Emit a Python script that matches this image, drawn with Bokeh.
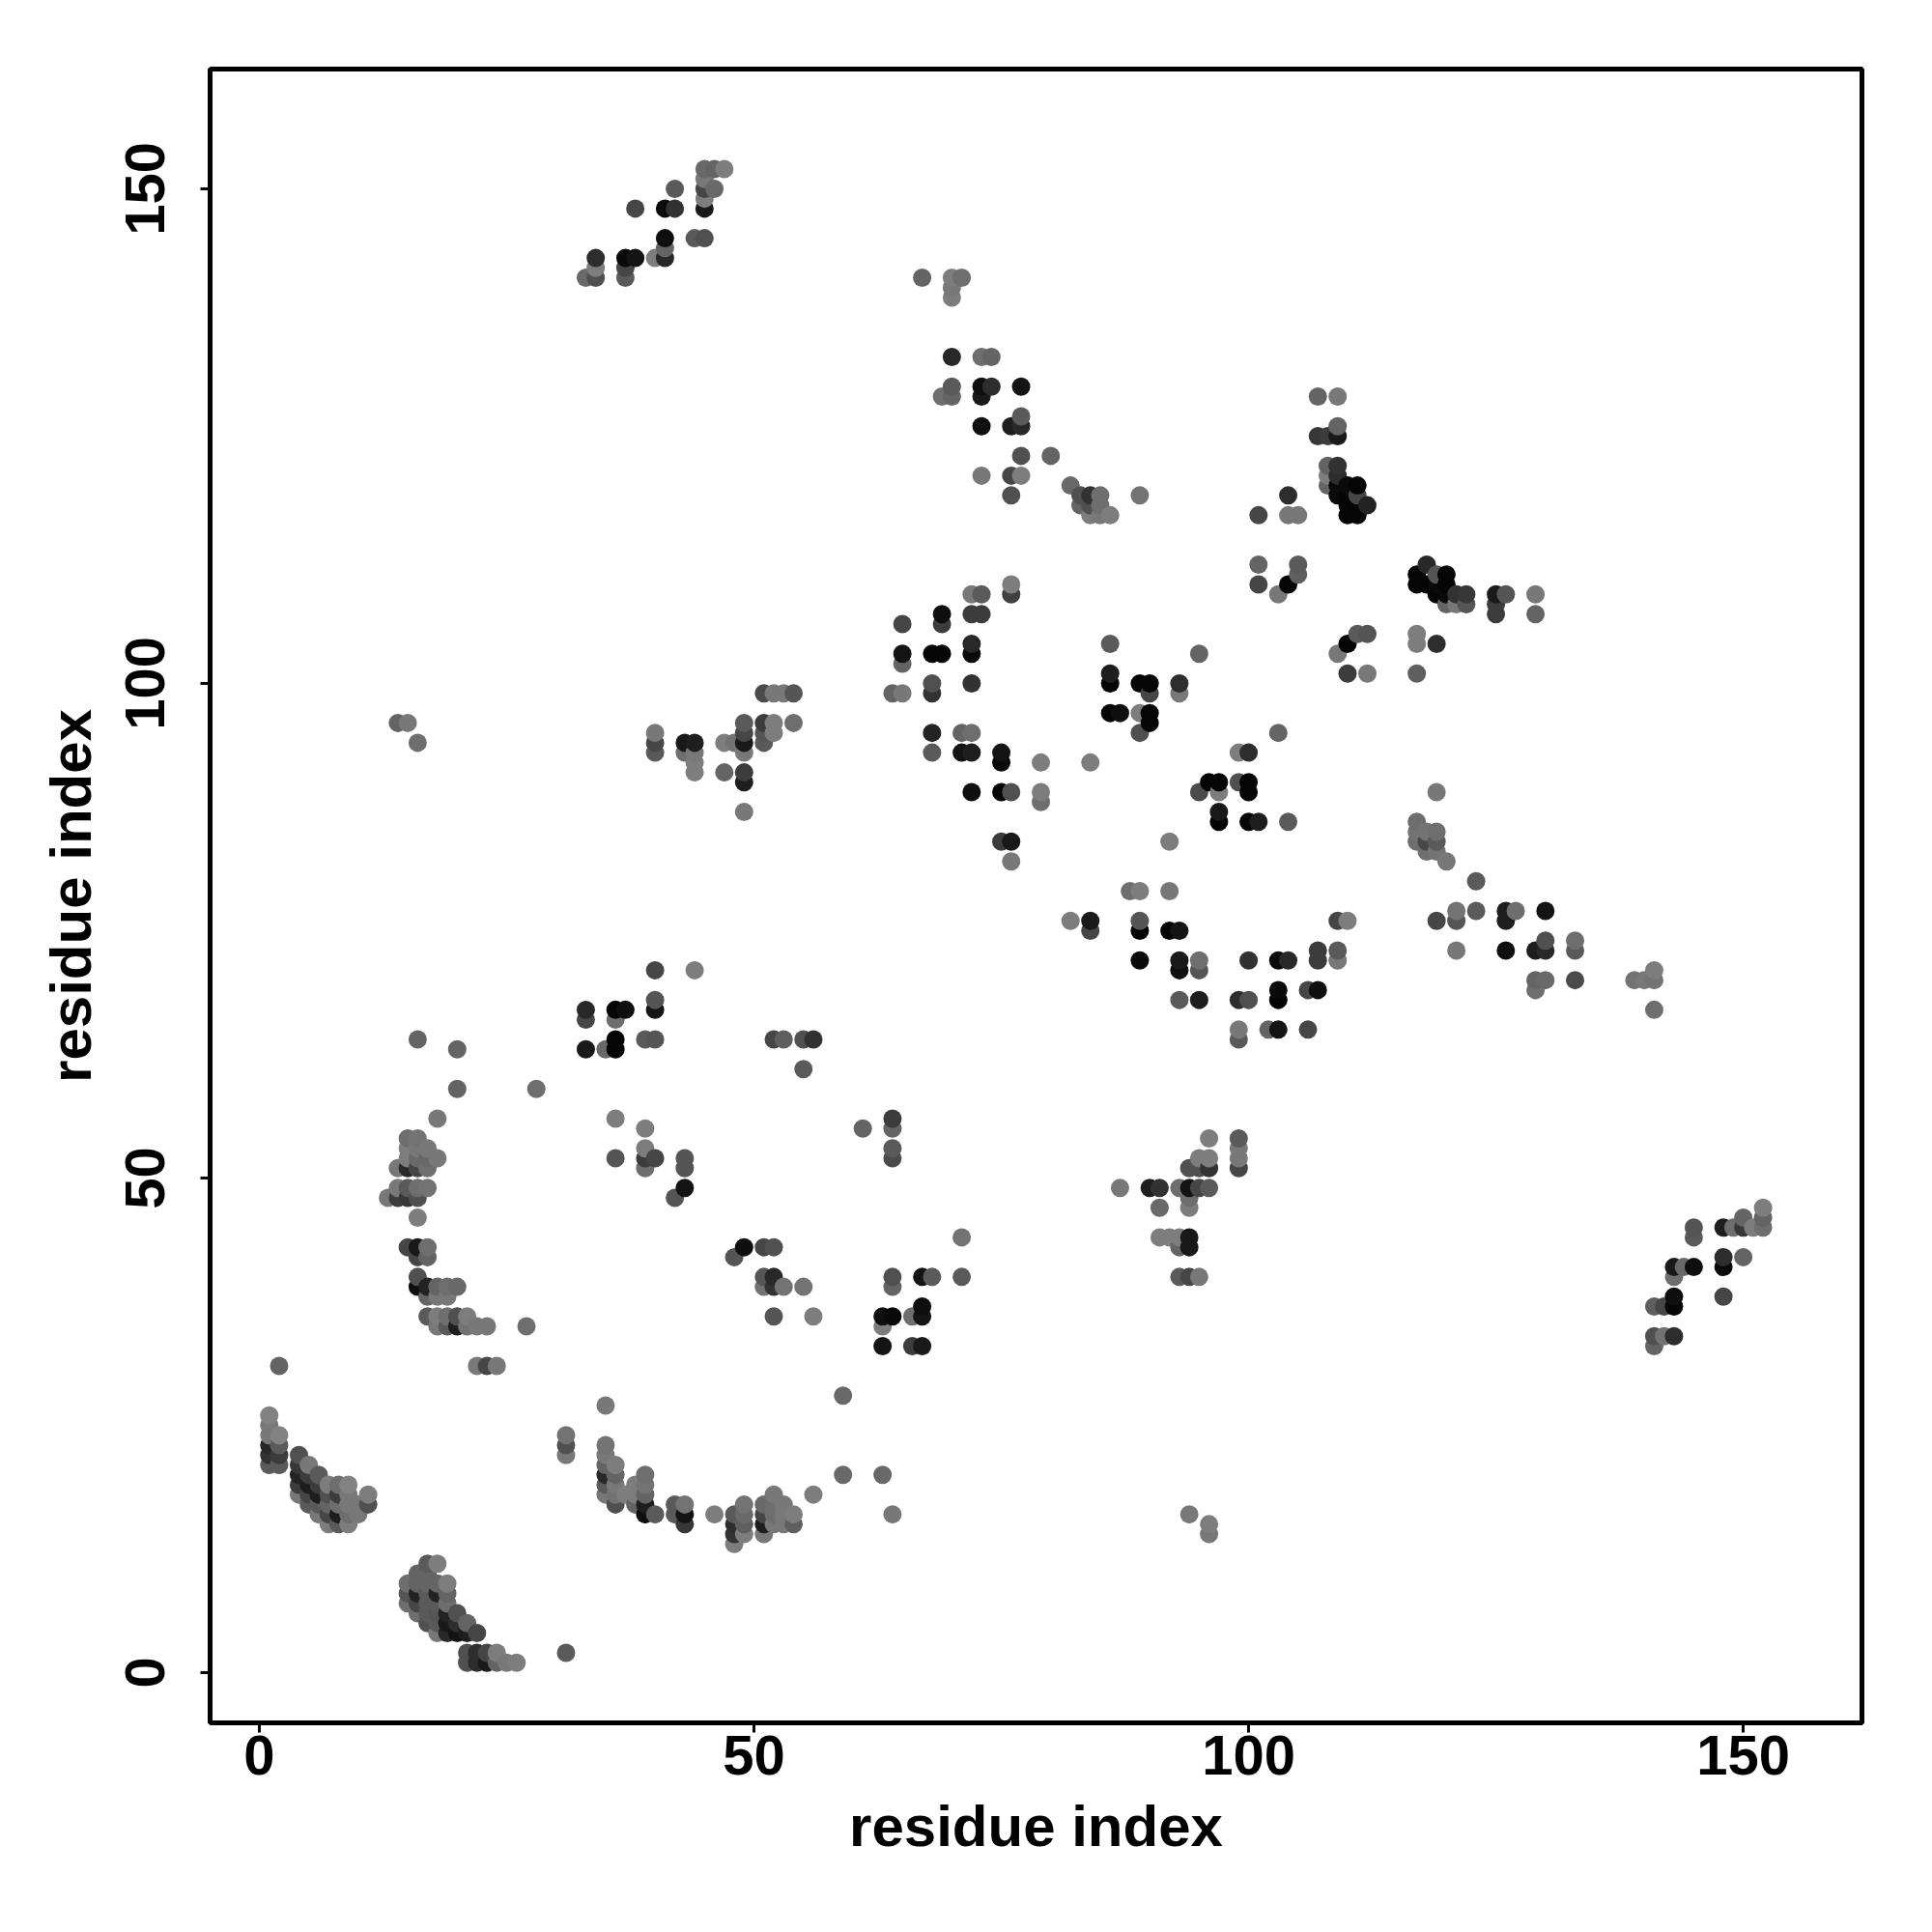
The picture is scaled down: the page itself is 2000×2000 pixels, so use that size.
from bokeh.plotting import figure
from bokeh.models import ColumnDataSource, Range1d, FixedTicker
from bokeh.embed import file_html
from bokeh.resources import INLINE

# contact points: (residue index x, residue index y, grey level of the mark)
helix_a = [(2,31,100),(1,26,130),(1,25,120),(1,24,120),(1,23,40),(1,22,50),(1,21,90),(2,24,130),(2,23,90),(2,22,60),(2,21,90),
 (4,22,80),(4,21,55),(4,20,35),(4,19,60),(4,18,120),(5,21,120),(5,20,60),(5,19,30),(5,18,70),(5,17,90),
 (6,20,90),(6,19,60),(6,18,30),(6,17,90),(6,16,120),(7,19,125),(7,18,80),(7,17,100),(7,16,70),(7,15,125),
 (8,19,110),(8,18,60),(8,17,110),(8,16,30),(8,15,90),(9,19,130),(9,18,120),(9,17,120),(9,16,110),(9,15,125),
 (10,17,120),(10,16,120),(11,18,125),(11,17,80)]
helix_b = [(15,9,110),(15,8,85),(15,7,110),(16,10,100),(16,9,100),(16,8,35),(16,7,70),(16,6,110),
 (17,11,90),(17,10,100),(17,9,100),(17,8,90),(17,7,90),(17,6,90),(17,5,80),
 (18,11,125),(18,9,100),(18,8,35),(18,7,90),(18,6,85),(18,5,90),(18,4,120),
 (19,9,125),(19,8,100),(19,7,110),(19,6,35),(19,5,25),(19,4,40),(20,6,80),(20,5,45),(20,4,20),
 (21,5,100),(21,4,30),(22,4,70),(21,2,80),(21,1,80),(22,2,45),(22,1,45),(23,2,70),(23,1,25),
 (24,2,125),(24,1,100),(25,1,120),(26,1,125),(31,2,90),(22,31,120),(23,31,70),(24,31,120)]
arc_left = [(16,64,100),(20,63,100),(20,59,100),(28,59,110),(18,56,120),(15,54,110),(16,54,115),(15,53,125),(16,53,120),(17,53,120),
 (15,52,125),(16,52,105),(17,52,105),(18,52,120),(14,51,120),(15,51,40),(16,51,70),(17,51,110),
 (14,49,120),(15,49,90),(16,49,110),(17,49,115),(13,48,120),(14,48,60),(15,48,55),(16,48,80),(16,46,125),
 (15,43,70),(16,43,25),(17,43,110),(16,42,70),(17,42,100),(16,40,80),(16,39,15),(17,39,35),(18,39,100),(19,39,110),(20,39,105),
 (17,38,100),(18,38,120),(19,38,120),(17,36,90),(18,36,125),(19,36,110),(20,36,80),(21,36,125),
 (18,35,120),(19,35,90),(20,35,30),(21,35,115),(22,35,120),(23,35,120),(27,35,110)]
arc_bottom = [(31,24,115),(31,23,80),(31,22,120),(35,27,120),(35,23,115),(35,22,120),(35,21,100),(35,20,40),(35,19,90),(35,18,120),
 (36,21,125),(36,20,100),(36,19,120),(36,18,115),(36,17,80),(37,18,125),(38,19,125),(38,18,125),(38,17,100),
 (39,20,110),(39,19,115),(39,18,100),(39,17,30),(39,16,15),(40,16,90),(42,17,90),(42,16,90),(43,17,115),(43,16,20),(43,15,55),
 (46,16,125),(48,16,90),(48,15,45),(48,14,50),(48,13,125),(49,17,115),(49,16,105),(49,15,95),(49,14,125),
 (51,17,105),(51,16,70),(51,15,30),(51,14,120),(52,18,120),(52,17,110),(52,16,110),(52,15,120),
 (53,17,120),(53,16,120),(53,15,120),(54,16,125),(54,15,95),(56,18,125),(59,28,105),(59,20,105),(63,20,105),(64,16,120),
 (94,16,120),(96,15,125),(96,14,120)]
mid_low = [(40,71,70),(44,71,125),(40,68,85),(40,67,20),(33,67,40),(33,66,70),(36,67,5),(37,67,15),(36,66,110),(33,63,25),(35,63,105),
 (36,64,5),(36,63,5),(39,64,90),(40,64,85),(52,64,70),(53,64,95),(55,64,80),(56,64,50),(55,61,90),
 (36,56,125),(39,55,125),(39,53,125),(36,52,85),(39,52,60),(40,52,70),(39,51,110),(43,52,85),(43,51,85),(43,49,20),(42,48,85),
 (61,55,100),(64,56,60),(64,55,100),(64,53,90),(64,52,75),(71,44,115),(71,40,90),
 (48,42,85),(49,43,15),(51,43,70),(52,43,80),(51,40,85),(52,40,40),(51,39,115),(52,39,50),(53,39,115),(55,39,115),(52,36,85),(56,36,125),
 (63,36,15),(64,36,10),(63,35,125),(63,33,20),(64,40,80),(64,39,100),(66,36,110),(67,37,15),(67,36,20),(67,40,20),(68,40,90),(66,33,60),(67,33,25)]
band_90 = [(14,96,100),(15,96,120),(16,94,110),(40,95,120),(40,94,70),(40,93,90),(43,94,25),(44,94,30),(43,93,110),(44,93,120),(44,92,125),(44,91,125),
 (47,94,125),(48,94,115),(49,96,90),(49,95,70),(49,94,25),(49,93,120),(47,91,100),(49,91,60),(49,90,30),(49,87,120),
 (51,96,60),(51,95,85),(51,94,90),(52,96,125),(52,95,125),(54,96,110),(51,99,75),(52,99,120),(53,99,120),(54,99,85)]
top_left = [(33,141,105),(34,141,80),(34,142,125),(34,143,45),(37,143,10),(38,143,20),(37,142,70),(37,141,90),(40,143,125),(41,143,40),(41,144,100),(41,145,15),
 (38,148,70),(41,148,10),(42,148,50),(42,150,90),(44,145,90),(45,145,80),(45,152,105),(45,151,120),(45,150,70),(45,149,125),(45,148,25),(46,152,100),(46,150,105),(47,152,125)]
mid_a = [(65,106,70),(69,107,15),(69,106,60),(72,109,120),(73,109,90),(72,107,60),(73,107,60),(76,110,125),(76,109,65),
 (72,104,40),(72,103,10),(68,103,5),(69,103,5),(65,103,20),(65,102,100),(68,100,80),(68,99,50),(64,99,100),(65,99,120),(72,100,50),
 (68,95,35),(71,95,100),(72,95,110),(68,93,90),(71,93,20),(72,93,30),(75,93,20),(75,92,10),(79,92,125),(84,92,125),
 (72,89,15),(75,89,5),(76,89,80),(79,89,125),(79,88,110),(75,84,60),(76,84,25),(76,82,120),(92,84,125)]
mid_b = [(86,104,90),(86,101,30),(86,100,5),(89,100,5),(90,100,5),(90,99,70),(93,100,45),(93,99,120),(86,97,5),(87,97,15),(89,97,125),(90,97,5),(90,96,5),(89,95,80),
 (95,103,100),(103,95,100),(99,93,125),(100,93,45),(96,90,5),(97,90,5),(95,89,75),(97,89,125),(99,90,80),(100,90,5),(100,89,5),
 (97,87,25),(97,86,5),(100,86,5),(101,86,30),(104,86,90),(88,79,110),(89,79,125),(92,79,120)]
mid_c = [(82,76,125),(84,76,25),(84,75,70),(89,76,85),(89,75,5),(92,75,5),(93,75,20),(89,72,10),(93,72,25),(93,71,15),(95,72,110),(95,71,85),
 (100,72,50),(103,72,10),(104,72,40),(107,73,60),(107,72,60),(109,73,90),(109,72,120),(109,76,70),(110,76,125),
 (93,68,90),(95,68,30),(99,68,45),(100,68,80),(103,69,10),(103,68,5),(106,69,70),(107,69,15),(99,65,120),(99,64,90),(102,65,100),(103,65,20),(106,65,70)]
lower_mid = [(87,49,120),(90,49,30),(91,49,50),(93,49,110),(94,49,20),(95,49,70),(96,49,90),(94,48,110),(94,47,125),(91,47,105),
 (96,54,125),(95,52,125),(96,52,125),(94,51,80),(95,51,80),(96,51,50),(99,54,90),(99,53,120),(99,52,120),(99,51,70),
 (91,44,125),(92,44,125),(93,44,125),(94,44,25),(94,43,25),(93,43,100),(93,40,90),(94,40,70),(95,40,120)]
lower_right = [(152,47,125),(152,46,100),(152,45,110),(150,46,100),(150,45,55),(151,45,125),(148,45,30),(149,45,110),(145,45,85),(145,44,90),
 (148,42,45),(148,41,10),(150,42,100),(148,38,70),(143,41,25),(144,41,105),(145,41,15),(143,40,110),(143,38,15),(143,37,5),(141,37,95),(142,37,70),
 (141,34,80),(142,34,115),(143,34,45),(141,33,100)]
upper_right = [(107,129,100),(109,129,120),(107,125,55),(108,125,60),(109,125,25),(109,126,100),(108,122,100),(109,122,50),(108,121,125),(109,121,45),
 (108,120,100),(109,120,10),(110,120,10),(111,120,5),(109,119,10),(110,119,5),(111,119,70),(110,118,5),(111,118,5),(112,118,35),(110,117,5),(111,117,5),
 (104,119,45),(104,117,120),(105,117,120),(101,117,70),(101,112,100),(101,110,70),(103,109,120),(105,112,90),(105,111,95),(104,110,5),
 (118,112,40),(117,111,5),(119,111,85),(120,111,5),(117,110,5),(118,110,5),(119,110,10),(120,110,5),(119,109,5),(120,109,10),(121,109,50),(122,109,55),
 (125,109,25),(126,109,85),(129,109,120),(120,108,100),(121,108,120),(122,108,85),(125,108,60),(125,107,60),(129,107,100),
 (111,105,90),(112,105,85),(117,105,125),(110,104,5),(117,104,125),(119,104,45),(109,103,120),(110,101,60),(112,101,120),(117,101,95)]
right_band = [(117,86,110),(117,85,115),(117,84,110),(118,85,115),(118,84,70),(118,83,110),(119,85,110),(119,84,90),(119,83,115),(120,82,120),(119,89,120),
 (123,80,90),(119,76,70),(121,77,115),(121,76,85),(123,77,90),(121,73,120),(126,77,30),(127,77,110),(126,76,30),(126,73,15),(130,77,20),
 (129,73,30),(130,74,80),(130,73,40),(133,74,110),(133,73,90),(129,70,100),(130,70,105),(129,69,110),(133,70,75),
 (139,70,115),(140,70,120),(141,70,115),(141,71,125),(141,67,110)]
upper_mid = [(67,141,100),(70,141,125),(71,141,110),(70,140,120),(70,139,125),(70,133,40),(73,133,110),(74,133,100),
 (70,130,90),(69,129,110),(70,129,100),(73,130,15),(74,130,45),(73,129,25),(77,130,20),(73,126,15),(76,126,30),(77,127,90),(77,126,40),
 (77,123,80),(73,121,120),(76,121,70),(77,121,125),(76,119,80),(80,123,100),(82,120,105),(83,119,80),(84,119,50),(85,119,110),
 (83,118,100),(84,118,80),(85,118,110),(84,117,125),(85,117,120),(86,117,125),(89,119,115)]

ticks = [0, 50, 100, 150]
axis_title = "residue index"

clusters = [helix_a, helix_b, arc_left, arc_bottom, mid_low, band_90, top_left, mid_a, mid_b, mid_c,
            lower_mid, lower_right, upper_right, right_band, upper_mid]
# later residues are painted over earlier ones
points = sorted(pt for c in clusters for pt in c)
src = ColumnDataSource(dict(
    x=[pt[0] for pt in points],
    y=[pt[1] for pt in points],
    c=["#%02x%02x%02x" % (pt[2], pt[2], pt[2]) for pt in points],
))

p = figure(width=1984, height=1984, output_backend="svg", toolbar_location=None,
           x_range=Range1d(-4.98, 162.0), y_range=Range1d(-5.08, 162.1),
           min_border_left=217, min_border_right=57, min_border_top=71, min_border_bottom=201)
p.sizing_mode = "fixed"
p.grid.visible = False
p.background_fill_color = "white"
p.outline_line_color = "black"
p.outline_line_width = 5
p.scatter("x", "y", source=src, size=19, marker="circle", fill_color="c", line_color=None)

for ax in (p.xaxis[0], p.yaxis[0]):
    ax.ticker = FixedTicker(ticks=ticks)
    ax.axis_label = axis_title
    ax.axis_label_text_font = "Liberation Sans"
    ax.axis_label_text_font_style = "bold"
    ax.axis_label_text_font_size = "60px"
    ax.major_label_text_font = "Liberation Sans"
    ax.major_label_text_font_style = "bold"
    ax.major_label_text_font_size = "58px"
    ax.major_label_text_color = "black"
    ax.axis_label_text_color = "black"
    ax.axis_line_color = None
    ax.major_tick_line_color = "black"
    ax.major_tick_line_width = 3
    ax.major_tick_in = 0
    ax.major_tick_out = 10
    ax.minor_tick_line_color = None
p.yaxis[0].major_label_orientation = "vertical"
p.xaxis[0].major_label_standoff = 3
p.yaxis[0].major_label_standoff = 37
p.xaxis[0].axis_label_standoff = 17
p.yaxis[0].axis_label_standoff = 21

open("out.html", "w").write(file_html(p, INLINE))
